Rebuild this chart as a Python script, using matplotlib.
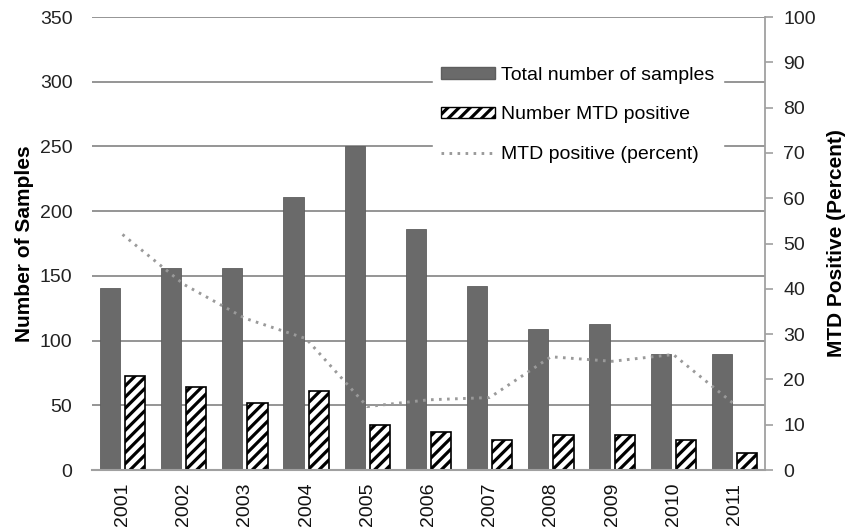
import matplotlib
matplotlib.use("Agg")
import matplotlib.pyplot as plt
import numpy as np
from matplotlib.patches import Patch
from matplotlib.lines import Line2D

plt.rcParams['font.family'] = ['Liberation Sans', 'DejaVu Sans']
plt.rcParams['hatch.linewidth'] = 2.3

years = ['2001', '2002', '2003', '2004', '2005', '2006', '2007', '2008', '2009', '2010', '2011']
total_samples = [141, 156, 156, 211, 250, 186, 142, 109, 113, 90, 90]
mtd_positive = [73, 64, 52, 61, 35, 29, 23, 27, 27, 23, 13]
mtd_percent = [52, 41, 33.5, 29, 14, 15.5, 16, 25, 24, 25.5, 14.5]

fig = plt.figure(figsize=(8.51, 5.32), dpi=100)
ax = fig.add_axes([0.108, 0.1165, 0.791, 0.8515])
x = np.arange(len(years))
w = 0.33
off = 0.205

grid_c = '#8c8c8c'
bar_c = '#6a6a6a'
line_c = '#9a9a9a'
dots = (0, (0.9, 1.85))

ax.set_ylim(0, 350)
ax.set_xlim(-0.5, len(years) - 0.5)
ax.set_yticks(range(0, 351, 50))
for v in range(50, 351, 50):
    ax.axhline(v, color=grid_c, lw=1.3, zorder=0)

ax.bar(x - off, total_samples, w, color=bar_c, edgecolor='#5e5e5e', lw=0.6, zorder=2)
ax.bar(x + off, mtd_positive, w, color='white', edgecolor='black', hatch='///', lw=1.2, zorder=2)

for s in ['left', 'top', 'right']:
    ax.spines[s].set_visible(False)
ax.spines['bottom'].set_color('#a0a0a0')
ax.spines['bottom'].set_linewidth(1.5)
ax.tick_params(axis='y', length=0, labelsize=14, pad=14, colors='#222222')
ax.set_xticks(x)
ax.set_xticklabels(years, rotation=90, fontsize=14)
ax.tick_params(axis='x', length=0, pad=9, colors='#111111')
ax.set_ylabel('Number of Samples', fontsize=15, fontweight='bold', labelpad=4)

ax2 = ax.twinx()
ax2.set_ylim(0, 100)
ax2.set_yticks(range(0, 101, 10))
ax2.plot(x, mtd_percent, linestyle=dots, color=line_c, lw=2.1, zorder=3)
for s in ['left', 'top', 'bottom']:
    ax2.spines[s].set_visible(False)
ax2.spines['right'].set_color('#a0a0a0')
ax2.spines['right'].set_linewidth(1.3)
ax2.tick_params(axis='y', direction='out', length=6, width=1.2, color='#a0a0a0', labelsize=14, pad=7, labelcolor='#222222')
ax2.set_ylabel('MTD Positive (Percent)', fontsize=15, fontweight='bold', labelpad=8)

handles = [
    Patch(facecolor=bar_c, edgecolor='#5e5e5e', label='Total number of samples'),
    Patch(facecolor='white', edgecolor='black', hatch='///', label='Number MTD positive'),
    Line2D([0], [0], linestyle=dots, color=line_c, lw=2.1, label='MTD positive (percent)'),
]
leg = ax2.legend(handles=handles, loc='upper left', bbox_to_anchor=(0.506, 0.91), frameon=True,
                 fontsize=14, handlelength=2.75, handleheight=0.55, labelspacing=1.17,
                 handletextpad=0.3, borderpad=0.45, borderaxespad=0, fancybox=False)
leg.get_frame().set_edgecolor('white')
leg.get_frame().set_facecolor('white')
leg.get_frame().set_alpha(1)

fig.savefig('out.png', dpi=100)
